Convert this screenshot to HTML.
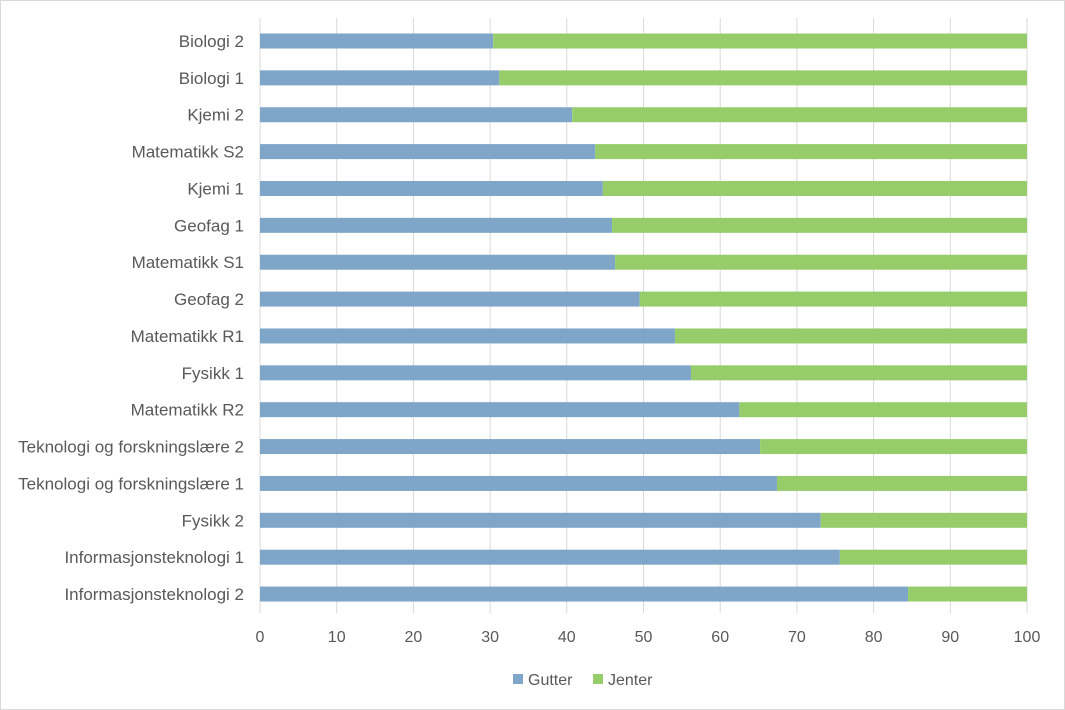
<!DOCTYPE html>
<html><head><meta charset="utf-8"><style>
body{margin:0;background:#fff;}
svg{display:block;font-family:"Liberation Sans",sans-serif;}
</style></head><body>
<svg id="chart" width="1065" height="710">
<rect x="0.5" y="0.5" width="1064" height="709" fill="#fff" stroke="#d9d9d9"/>
<g id="grid"></g><g id="bars"></g><g id="labels"></g><g id="ticks"></g>
<g>
<rect x="513" y="674" width="10" height="10" fill="#7fa5c8"/>
<text x="528" y="685" font-size="16" fill="#595959">Gutter</text>
<rect x="593" y="674" width="10" height="10" fill="#97cc6a"/>
<text x="608" y="685" font-size="16" fill="#595959">Jenter</text>
</g>
</svg>
<script>
const categories=["Biologi 2","Biologi 1","Kjemi 2","Matematikk S2","Kjemi 1","Geofag 1","Matematikk S1","Geofag 2","Matematikk R1","Fysikk 1","Matematikk R2","Teknologi og forskningslære 2","Teknologi og forskningslære 1","Fysikk 2","Informasjonsteknologi 1","Informasjonsteknologi 2"];
const gutter=[30.4,31.2,40.7,43.7,44.7,45.9,46.3,49.5,54.1,56.2,62.5,65.2,67.4,73.1,75.6,84.5];
const jenter=[69.6,68.8,59.3,56.3,55.3,54.1,53.7,50.5,45.9,43.8,37.5,34.8,32.6,26.9,24.4,15.5];
const xTicks=[0,10,20,30,40,50,60,70,80,90,100];
const NS="http://www.w3.org/2000/svg";
const x=v=>260+v*7.67;
const y=i=>41+i*36.87;
function mk(tag,attrs,parent,txt){const e=document.createElementNS(NS,tag);for(const k in attrs)e.setAttribute(k,attrs[k]);if(txt!=null)e.textContent=txt;document.getElementById(parent).appendChild(e);return e;}
xTicks.forEach(t=>{
 const l=mk('line',{x1:x(t),x2:x(t),y1:18,y2:613,stroke:'#d9d9d9','stroke-width':1},'grid');
 
 
 const tx=mk('text',{x:x(t),y:642,'text-anchor':'middle','font-size':16,fill:'#595959'},'ticks',t);
 
 
});
categories.forEach((c,i)=>{
 const cy=y(i);
 const b1=mk('rect',{x:x(0),y:cy-7.5,width:x(gutter[i])-x(0),height:15,fill:'#7fa5c8'},'bars');
 
 
 const b2=mk('rect',{x:x(gutter[i]),y:cy-7.5,width:x(gutter[i]+jenter[i])-x(gutter[i]),height:15,fill:'#97cc6a'},'bars');
 
 
 const t=mk('text',{x:244,y:cy+6,'text-anchor':'end','font-size':17,fill:'#595959'},'labels',c);
 
 
});
</script>
</body></html>
